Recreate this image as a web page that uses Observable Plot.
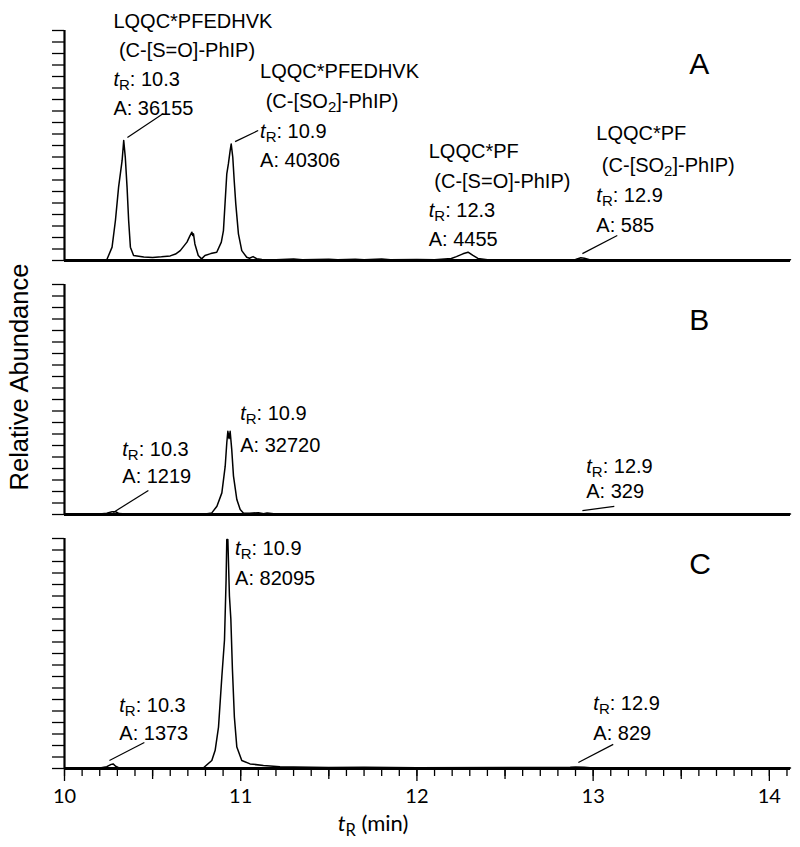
<!DOCTYPE html>
<html><head><meta charset="utf-8">
<script src="https://cdn.jsdelivr.net/npm/d3@7"></script>
<script src="https://cdn.jsdelivr.net/npm/@observablehq/plot@0.6"></script>
<style>body{margin:0;background:#fff;} #chart{width:800px;height:847px;}</style>
</head><body><div id="chart"></div>
<script>
const panels = ["A", "B", "C"];

const timeA = [10.00,10.20,10.24,10.27,10.289,10.307,10.327,10.336,10.345,10.355,10.364,10.374,10.392,10.45,10.50,10.55,10.60,10.63,10.657,10.695,10.713,10.723,10.728,10.732,10.74,10.759,10.778,10.797,10.83,10.864,10.89,10.902,10.921,10.93,10.94,10.946,10.955,10.963,10.972,10.987,11.006,11.034,11.05,11.07,11.09,11.12,11.20,11.30,11.35,11.50,11.55,11.65,11.70,11.80,11.85,12.00,12.10,12.195,12.224,12.261,12.29,12.318,12.346,12.40,12.60,12.90,12.93,12.95,12.98,13.50,14.12];
const abundA = [0,0,0.3,5.8,17.4,31.9,43.5,52.2,44.9,31.9,17.4,5.8,2.2,1.5,1.3,1.6,2.0,2.8,4.3,8.0,10.9,12.3,10.9,11.6,7.2,2.2,0.7,2.2,3.0,3.6,8.0,13.0,37.7,42.0,47.8,50.7,44.9,34.8,24.6,11.6,4.3,1.4,1.0,1.7,0.8,0.4,0.3,0.6,0.3,0.5,0.3,0.5,0.3,0.6,0.3,0.4,0.3,0.9,1.7,2.9,3.6,2.2,0.9,0.3,0.3,0.4,1.2,1.0,0.3,0.3,0.3];

const timeB = [10.00,10.20,10.24,10.27,10.29,10.31,10.35,10.80,10.836,10.865,10.893,10.912,10.921,10.927,10.934,10.94,10.949,10.959,10.978,10.997,11.015,11.05,11.10,11.13,11.15,11.20,12.90,14.12];
const abundB = [0,0.2,0.6,1.2,1.2,0.4,0.2,0.2,0.7,3.6,9.4,21.0,31.2,36.2,33.0,36.2,28.3,16.7,6.5,2.2,0.7,0.5,0.8,0.3,0.7,0.2,0.3,0.2];

const timeC = [10.00,10.20,10.24,10.265,10.276,10.29,10.31,10.50,10.789,10.836,10.855,10.874,10.893,10.908,10.917,10.921,10.927,10.936,10.944,10.953,10.964,10.978,11.006,11.053,11.129,11.223,11.30,11.40,11.50,11.70,12.00,12.87,12.90,12.95,13.00,14.12];
const abundC = [0,0.2,0.8,1.8,2.0,1.0,0.3,0.3,0.3,3.5,7.9,18.0,40.0,56.0,82.0,99.6,99.6,75.0,65.0,43.0,22.4,9.3,3.5,2.0,1.3,0.8,0.6,0.5,0.4,0.5,0.3,0.5,0.7,0.5,0.2,0.2];

const xMajorTicks = [10, 11, 12, 13, 14];
const yTicks = d3.range(0, 101, 5);

const notePanel = ["A","A","A","A","A","A","A","A","A","A","A","A","A","A","A","A","B","B","B","B","B","B","C","C","C","C","C","C"];
const noteText = [
  "LQQC*PFEDHVK","\u00a0(C-[S=O]-PhIP)","tR: 10.3","A: 36155",
  "LQQC*PFEDHVK","\u00a0(C-[SO2]-PhIP)","tR: 10.9","A: 40306",
  "LQQC*PF","\u00a0(C-[S=O]-PhIP)","tR: 12.3","A: 4455",
  "LQQC*PF","\u00a0(C-[SO2]-PhIP)","tR: 12.9","A: 585",
  "tR: 10.3","A: 1219","tR: 10.9","A: 32720","tR: 12.9","A: 329",
  "tR: 10.9","A: 82095","tR: 10.3","A: 1373","tR: 12.9","A: 829"];
const noteTime = [10.2775,10.2775,10.2775,10.2775, 11.110,11.110,11.110,11.110, 12.067,12.067,12.067,12.067, 13.018,13.018,13.018,13.018, 10.328,10.328,10.997,10.997,12.961,12.961, 10.968,10.968,10.311,10.311,13.001,13.001];
const noteAbund = [107.4,94.8,82.2,69.6, 85.7,72.6,59.6,47.0, 50.9,37.8,25.2,12.6, 58.7,44.8,31.7,18.7, 31.6,19.8,47.4,33.5,24.4,13.2, 99.1,86.1,30.9,18.7,31.7,18.7];

const calloutPanel = ["A","A","A","B","B","C","C"];
const calloutT1 = [10.357,10.968,12.939,10.277,12.939,10.255,12.916];
const calloutY1 = [53.5,51.7,3.0,0.9,1.7,3.5,2.6];
const calloutT2 = [10.561,11.099,13.137,10.476,13.120,10.453,13.114];
const calloutY2 = [63.9,56.5,10.9,10.4,3.5,11.3,10.5];

const letterTime = [13.545, 13.545, 13.545];
const letterAbund = [90.4, 89.6, 93.9];

// build tables
const traces = [];
[["A", timeA, abundA], ["B", timeB, abundB], ["C", timeC, abundC]].forEach(([p, ts, ys]) =>
  ts.forEach((t, i) => traces.push({panel: p, t, y: ys[i]})));
const notes = noteText.map((text, i) => ({panel: notePanel[i], t: noteTime[i], y: noteAbund[i], text}));
const callouts = calloutPanel.map((p, i) => ({panel: p, t1: calloutT1[i], y1: calloutY1[i], t2: calloutT2[i], y2: calloutY2[i]}));
const letters = panels.map((p, i) => ({panel: p, t: letterTime[i], y: letterAbund[i], text: p}));
const minorTicks = d3.range(100, 142).map(d => d / 10);
const halfTicks = [10.5, 11.5, 12.5, 13.5];

const chart = Plot.plot({
  width: 800, height: 847,
  marginLeft: 64, marginRight: 10, marginTop: 30, marginBottom: 79,
  style: {fontFamily: "'Liberation Sans', Arial, sans-serif", background: "white", overflow: "visible", color: "black"},
  x: {domain: [10, 14.12], label: null},
  y: {domain: [0, 100], label: null},
  fy: {domain: panels, paddingInner: 24 / 254, paddingOuter: 0, round: false, axis: null, label: null},
  marks: [
    Plot.axisY(yTicks, {tickSize: 12, fill: "none", strokeWidth: 1.3, label: null}),
    Plot.axisX(minorTicks, {tickSize: 8, fill: "none", strokeWidth: 1.3, label: null}),
    Plot.axisX(halfTicks, {tickSize: 11, fill: "none", strokeWidth: 1.3, label: null}),
    Plot.axisX(xMajorTicks, {tickSize: 13, tickPadding: 7, strokeWidth: 1.3, fontSize: 20, fontFamily: "Lato, 'Open Sans', sans-serif", tickFormat: d => String(d), label: null}),
    Plot.ruleX([10], {strokeWidth: 2.2}),
    Plot.ruleY([0], {strokeWidth: 3}),
    Plot.line(traces, {x: "t", y: "y", fy: "panel", strokeWidth: 1.5, strokeLinejoin: "round"}),
    Plot.link(callouts, {x1: "t1", y1: "y1", x2: "t2", y2: "y2", fy: "panel", strokeWidth: 1.2}),
    Plot.text(notes, {x: "t", y: "y", fy: "panel", text: "text", textAnchor: "start", lineAnchor: "top", fontSize: 20}),
    Plot.text(letters, {x: "t", y: "y", fy: "panel", text: "text", textAnchor: "start", lineAnchor: "top", fontSize: 30})
  ]
});

// rich text: italic t with subscript R, subscript 2 in SO2
function enrich(el) {
  const s = el.textContent;
  if (!/tR|SO2/.test(s)) return;
  const sel = d3.select(el);
  sel.text(null);
  const parts = s.split(/(tR|SO2)/);
  for (const part of parts) {
    if (part === "tR") {
      sel.append("tspan").attr("font-style", "italic").text("t");
      sel.append("tspan").attr("baseline-shift", "-4").attr("font-size", "0.75em").text("R");
    } else if (part === "SO2") {
      sel.append("tspan").text("SO");
      sel.append("tspan").attr("baseline-shift", "-4").attr("font-size", "0.75em").text("2");
    } else if (part) {
      sel.append("tspan").text(part);
    }
  }
}
d3.select(chart).selectAll("text").each(function() {
  if (this.children.length === 0) enrich(this);
});

const svg = d3.select(chart);
svg.append("text")
  .attr("transform", "translate(19,377) rotate(-90)")
  .attr("text-anchor", "middle")
  .attr("dy", "0.35em")
  .attr("font-size", 25.5)
  .attr("font-family", "'Liberation Sans', Arial, sans-serif")
  .attr("fill", "black")
  .text("Relative Abundance");
const xl = svg.append("text")
  .attr("x", 373).attr("y", 831)
  .attr("font-size", 22)
  .attr("font-family", "Lato, 'Open Sans', sans-serif")
  .attr("fill", "black");
xl.append("tspan").attr("font-style", "italic").text("t");
xl.append("tspan").attr("baseline-shift", "-5").attr("font-size", "0.75em").text("R");
xl.append("tspan").text(" (min)");

document.getElementById("chart").appendChild(chart);
</script>
</body></html>
